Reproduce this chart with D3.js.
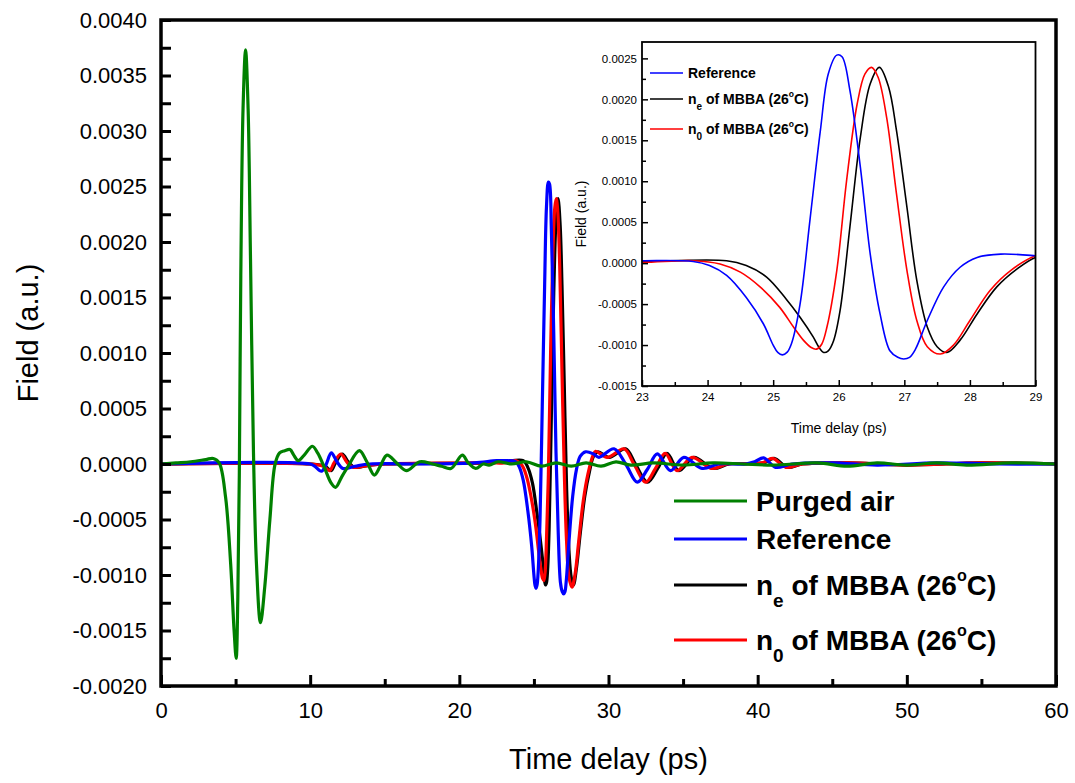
<!DOCTYPE html>
<html>
<head>
<meta charset="utf-8">
<script src="https://cdn.jsdelivr.net/npm/d3@7/dist/d3.min.js"></script>
<style>
html,body{margin:0;padding:0;background:#fff;}
svg{display:block;font-family:"Liberation Sans",Arial,sans-serif;}
</style>
</head>
<body>
<svg id="chart" width="1075" height="783"></svg>
<script>
// ---------- data (time in ps, field in a.u.) ----------
const airT = [0,1,2,3,3.5,3.9,4.33,4.67,4.9,5.04,5.15,5.25,5.35,5.5,5.67,5.84,6.0,6.2,6.4,6.67,6.96,7.3,7.65,7.95,8.3,8.65,8.9,9.2,9.6,10.15,10.5,10.95,11.4,11.7,12.1,12.5,13.3,13.8,14.3,14.7,15.15,15.8,16.45,17.35,18.2,18.8,19.44,20.2,20.6,21.1,21.6,22.0,22.6,23.5,24.5,25.5,26.5,27.5,28.5,29.5,30.5,31.5,33,35,37,39,41,44,46,48,50,52,54,57,60];
const airV = [0,0.00001,0.00002,0.00004,0.00005,0.00001,-0.0003,-0.0009,-0.0015,-0.00175,-0.0012,-0.0001,0.0017,0.0032,0.00373,0.0032,0.00185,0.0001,-0.0009,-0.00143,-0.0011,-0.0005,0,0.0001,0.00012,0.00013,0.00008,0.00003,0.00008,0.00016,0.0001,-0.00003,-0.00017,-0.00021,-0.00012,-0.00003,0.00012,0.00002,-0.0001,-0.00002,0.00008,0.00001,-0.00006,0.00002,0,-0.00002,-0.00004,0.00008,0.00001,-0.00004,0,-0.00001,0.00002,0,0.00002,-0.00002,0.00001,-0.00002,0.00001,-0.00002,0.00002,-0.00001,0.00001,-0.00001,0.00001,0,-0.00001,0.00001,-0.00002,0.00001,-0.00001,0.00001,-0.00001,0.00001,0];

const refT = [0,10,10.3,10.75,11.05,11.42,11.8,12.2,13.0,14.0,18,21,22.5,23,23.78,24.03,24.29,24.59,24.85,25.0,25.07,25.14,25.21,25.28,25.41,25.56,25.72,25.84,25.97,26.05,26.17,26.33,26.48,26.63,26.78,26.9,26.99,27.08,27.17,27.35,27.6,27.85,28.11,28.47,29.0,29.36,30.37,31.15,31.93,32.6,33.27,34.16,35.05,36.28,37.4,39.2,39.8,40.4,41.2,42.3,45,48,52,56,60];
const refV = [0,0,-0.00002,-0.000065,-0.00001,0.0001,0.00002,-0.00004,-0.00002,0,0,0.00001,0.00003,0.00003,0.00002,-0.00003,-0.00015,-0.00042,-0.00074,-0.001,-0.00109,-0.00112,-0.00109,-0.00098,-0.0005,0.00052,0.00162,0.00231,0.00254,0.00252,0.00211,0.00117,0.00011,-0.00062,-0.00107,-0.00115,-0.00117,-0.00115,-0.00105,-0.0007,-0.00029,-0.00005,0.00007,0.00011,0.00009,0.00006,0.000137,0,-0.000164,-0.00005,0.000092,-0.00006,0.00006,-0.00004,0,0,0.00002,0.000055,-0.00003,0,0.00001,-0.00001,0.00001,0,0];

const neT = [0,10,11.0,11.4,11.7,12.15,12.6,13.0,14,15,22,23,24.29,24.59,24.9,25.2,25.41,25.61,25.7,25.77,25.84,25.92,26.02,26.17,26.33,26.48,26.62,26.76,26.88,27.04,27.19,27.35,27.5,27.65,27.85,28.11,28.41,28.72,29.0,29.3,30.05,31.15,31.8,32.62,33.3,33.92,34.72,35.72,37.0,38.1,40.4,41.1,42.0,43,46,50,55,60];
const neV = [0,0,-0.00002,-0.00006,0.00001,0.00009,0.00001,-0.00003,-0.00001,0,0.00001,0.00002,0.00003,-0.00003,-0.00017,-0.00044,-0.00066,-0.0009,-0.00103,-0.00109,-0.00107,-0.00095,-0.00058,0.00044,0.00154,0.00219,0.00239,0.00215,0.00162,0.00068,-0.00021,-0.00078,-0.00102,-0.00109,-0.00094,-0.00062,-0.00029,-0.00007,0.00007,0.00011,0.00006,0.000137,0,-0.000164,-0.00004,0.000095,-0.00006,0.00006,-0.00004,0,0.00001,0.00005,-0.00003,0,0.00001,-0.00001,0.00001,0];

const noT = [0,10,10.9,11.3,11.6,12.05,12.5,12.9,14,15,22,23,23.78,24.19,24.5,24.8,25.1,25.31,25.46,25.58,25.66,25.74,25.82,25.97,26.12,26.28,26.4,26.5,26.6,26.73,26.88,27.04,27.19,27.35,27.55,27.75,28.0,28.31,28.62,29.0,29.14,29.92,31.04,31.7,32.5,33.15,33.8,34.6,35.6,36.9,38.0,40.3,41.0,41.9,43,46,50,55,60];
const noV = [0,0,-0.00002,-0.00006,0.00001,0.00009,0.00001,-0.00003,-0.00001,0,0.00001,0.00001,0.00003,-0.00001,-0.00011,-0.00029,-0.00054,-0.00078,-0.00094,-0.00103,-0.00105,-0.00099,-0.00078,-0.00009,0.00101,0.00194,0.00231,0.00239,0.00227,0.00178,0.00085,-0.00009,-0.0007,-0.00102,-0.00111,-0.001,-0.0007,-0.00033,-0.00009,0.00009,0.000115,0.00006,0.000137,0,-0.000164,-0.00004,0.000095,-0.00006,0.00006,-0.00004,0,0.00001,0.00005,-0.00003,0,0.00001,-0.00001,0.00001,0];

const seriesNames = ["Purged air","Reference","n_e of MBBA (26°C)","n_0 of MBBA (26°C)"];
const seriesColors = ["#008000","#0000ff","#000000","#ff0000"];

const mainXTicks = [0,10,20,30,40,50,60];
const mainXMinor = [5,15,25,35,45,55];
const mainYTicks = [-0.002,-0.0015,-0.001,-0.0005,0,0.0005,0.001,0.0015,0.002,0.0025,0.003,0.0035,0.004];
const insetXTicks = [23,24,25,26,27,28,29];
const insetYTicks = [-0.0015,-0.001,-0.0005,0,0.0005,0.001,0.0015,0.002,0.0025];

// ---------- helpers ----------
const fmt = v => { const s = Math.abs(v).toFixed(4); return (v < -1e-12 ? "-" : "") + s; };
const zip = (T, V) => T.map((t, i) => ({t, v: V[i]}));
const series = [
  {name: seriesNames[0], color: seriesColors[0], data: zip(airT, airV)},
  {name: seriesNames[1], color: seriesColors[1], data: zip(refT, refV)},
  {name: seriesNames[2], color: seriesColors[2], data: zip(neT, neV)},
  {name: seriesNames[3], color: seriesColors[3], data: zip(noT, noV)}
];
const svg = d3.select("#chart");

// ---------- main plot ----------
const M = {l:161, r:1056, t:20, b:686};
const x = d3.scaleLinear().domain([0,60]).range([M.l, M.r]);
const y = d3.scaleLinear().domain([-0.002,0.004]).range([M.b, M.t]);

svg.append("defs").append("clipPath").attr("id","mainclip")
  .append("rect").attr("x",M.l).attr("y",M.t).attr("width",M.r-M.l).attr("height",M.b-M.t);

const line = d3.line().x(d => x(d.t)).y(d => y(d.v)).curve(d3.curveCatmullRom.alpha(0.5));
const drawOrder = [2,3,1,0];
const mg = svg.append("g").attr("clip-path","url(#mainclip)");
drawOrder.forEach(i => {
  mg.append("path").datum(series[i].data).attr("d", line)
    .attr("fill","none").attr("stroke", series[i].color).attr("stroke-width",3.2)
    .attr("stroke-linejoin","round");
});

// axes
const yAx = svg.append("g").attr("transform",`translate(${M.l},0)`)
  .call(d3.axisLeft(y).tickValues(mainYTicks).tickFormat(fmt).tickSizeInner(-10).tickSizeOuter(0).tickPadding(14));
const yAxMinor = svg.append("g").attr("transform",`translate(${M.l},0)`)
  .call(d3.axisLeft(y).tickValues(d3.range(-0.00175,0.004,0.0005)).tickFormat("").tickSizeInner(-10).tickSizeOuter(0));
const xAx = svg.append("g").attr("transform",`translate(0,${M.b})`)
  .call(d3.axisBottom(x).tickValues(mainXTicks).tickFormat(d3.format("d")).tickSizeInner(-11).tickSizeOuter(0).tickPadding(19));
const xAxMinor = svg.append("g").attr("transform",`translate(0,${M.b})`)
  .call(d3.axisBottom(x).tickValues(mainXMinor).tickFormat("").tickSizeInner(-7).tickSizeOuter(0));
[yAx,yAxMinor,xAx,xAxMinor].forEach(g => {
  g.select(".domain").remove();
  g.selectAll(".tick line").attr("stroke","#000").attr("stroke-width",3);
  g.selectAll(".tick text").attr("font-size",22).attr("fill","#000").attr("font-family","Liberation Sans, Arial, sans-serif");
});
xAx.selectAll(".tick text").attr("dy","0.6em");

svg.append("rect").attr("x",M.l).attr("y",M.t).attr("width",M.r-M.l).attr("height",M.b-M.t)
  .attr("fill","none").attr("stroke","#000").attr("stroke-width",3.5);

svg.append("text").attr("x",(M.l+M.r)/2).attr("y",769).attr("text-anchor","middle")
  .attr("font-size",29).text("Time delay (ps)");
svg.append("text").attr("transform","translate(38,333) rotate(-90)").attr("text-anchor","middle")
  .attr("font-size",29).text("Field (a.u.)");

// main legend
function legendLabel(g, lx, ly, name, size, subSize, subDy, supDy) {
  const t = g.append("text").attr("x",lx).attr("y",ly).attr("font-size",size).attr("font-weight","bold");
  const m = name.match(/^n_(\w) (of MBBA \(26)°(C\))$/);
  if (!m) { t.text(name); return; }
  t.append("tspan").text("n");
  t.append("tspan").attr("font-size",subSize).attr("dy",subDy).text(m[1]);
  t.append("tspan").attr("dy",-subDy).text(" " + m[2]);
  t.append("tspan").attr("font-size",subSize*0.85).attr("dy",supDy).text("o");
  t.append("tspan").attr("dy",-supDy).text(m[3]);
}
const legY = [501,539,585,640];
const lg = svg.append("g");
[0,1,2,3].forEach((i,k) => {
  lg.append("line").attr("x1",674).attr("x2",747).attr("y1",legY[k]).attr("y2",legY[k])
    .attr("stroke",series[i].color).attr("stroke-width",3.2);
  legendLabel(lg, 756, legY[k]+10, series[i].name, 28, 19, 12, -14);
});

// ---------- inset ----------
const I = {l:642, r:1035.5, t:42, b:386};
const xi = d3.scaleLinear().domain([23,29]).range([I.l, I.r]);
const yi = d3.scaleLinear().domain([-0.0015,0.0027]).range([I.b, I.t]);
svg.select("defs").append("clipPath").attr("id","insetclip")
  .append("rect").attr("x",I.l).attr("y",I.t).attr("width",I.r-I.l).attr("height",I.b-I.t);

svg.append("rect").attr("x",575).attr("y",30).attr("width",470).attr("height",412).attr("fill","#fff");

const lineI = d3.line().x(d => xi(d.t)).y(d => yi(d.v)).curve(d3.curveCatmullRom.alpha(0.5));
const ig = svg.append("g").attr("clip-path","url(#insetclip)");
[2,3,1].forEach(i => {
  ig.append("path").datum(series[i].data).attr("d", lineI)
    .attr("fill","none").attr("stroke", series[i].color).attr("stroke-width",1.6);
});

const yiAx = svg.append("g").attr("transform",`translate(${I.l},0)`)
  .call(d3.axisLeft(yi).tickValues(insetYTicks).tickFormat(fmt).tickSizeInner(-6).tickSizeOuter(0).tickPadding(5));
const yiMinor = svg.append("g").attr("transform",`translate(${I.l},0)`)
  .call(d3.axisLeft(yi).tickValues(d3.range(-0.00125,0.0027,0.0005)).tickFormat("").tickSizeInner(-4).tickSizeOuter(0));
const xiAx = svg.append("g").attr("transform",`translate(0,${I.b})`)
  .call(d3.axisBottom(xi).tickValues(insetXTicks).tickFormat(d3.format("d")).tickSizeInner(-6).tickSizeOuter(0).tickPadding(8));
const xiMinor = svg.append("g").attr("transform",`translate(0,${I.b})`)
  .call(d3.axisBottom(xi).tickValues([23.5,24.5,25.5,26.5,27.5,28.5]).tickFormat("").tickSizeInner(-4).tickSizeOuter(0));
[yiAx,yiMinor,xiAx,xiMinor].forEach(g => {
  g.select(".domain").remove();
  g.selectAll(".tick line").attr("stroke","#000").attr("stroke-width",1.5);
  g.selectAll(".tick text").attr("font-size",11.5).attr("fill","#000").attr("font-family","Liberation Sans, Arial, sans-serif");
});
xiAx.selectAll(".tick text").attr("dy","0.6em");

svg.append("rect").attr("x",I.l).attr("y",I.t).attr("width",I.r-I.l).attr("height",I.b-I.t)
  .attr("fill","none").attr("stroke","#000").attr("stroke-width",1.8);

svg.append("text").attr("x",(I.l+I.r)/2).attr("y",433).attr("text-anchor","middle")
  .attr("font-size",14).text("Time delay (ps)");
svg.append("text").attr("transform","translate(586,214) rotate(-90)").attr("text-anchor","middle")
  .attr("font-size",14).text("Field (a.u.)");

const legIY = [73,99,129];
[1,2,3].forEach((i,k) => {
  svg.append("line").attr("x1",650).attr("x2",683).attr("y1",legIY[k]).attr("y2",legIY[k])
    .attr("stroke",series[i].color).attr("stroke-width",1.6);
  legendLabel(svg, 688, legIY[k]+5, series[i].name, 14, 10, 6, -7);
});
</script>
</body>
</html>
